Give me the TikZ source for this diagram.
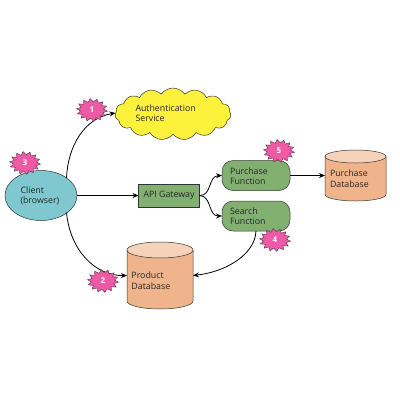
\documentclass[tikz,border=0pt]{standalone}
\usepackage{fontspec}
\setmainfont{Open Sans}
\usetikzlibrary{shapes.geometric,shapes.symbols,arrows.meta}
\definecolor{cteal}{HTML}{7FC8CF}
\definecolor{cgreen}{HTML}{82B071}
\definecolor{cyel}{HTML}{FCF23C}
\definecolor{corange}{HTML}{F0B48C}
\definecolor{ctop}{HTML}{F6D2BA}
\definecolor{cpink}{HTML}{EE5AA6}
\definecolor{cline}{HTML}{333333}
\newcommand{\burstshape}[2]{%
 \draw[cline!70!cpink,line width=0.5pt,fill=cpink] plot[domain=0:27,samples=28,smooth cycle,tension=0] ({#1+(mod(\x,2)==0?15.5:11.5)*cos(\x*360/28+6)},{#2+(mod(\x,2)==0?11.5:8.2)*sin(\x*360/28+6)});}
\newcommand{\dbshape}[5]{% x1 x2 y1 y2 ry
 \pgfmathsetmacro{\rxv}{(#2-#1)/2}
 \pgfmathsetmacro{\cxv}{(#1+#2)/2}
 \path[shapeline,fill=corange] (#1,#3+#5) -- (#1,#4-#5) arc[start angle=180,end angle=360,x radius=\rxv,y radius=-#5] -- (#2,#3+#5) -- cycle;
 \path[shapeline,fill=ctop] (\cxv,#3+#5) ellipse[x radius=\rxv,y radius=#5];}
\tikzset{
 x=1pt,y=-1pt,
 every node/.style={font=\fontsize{8.8}{10.4}\selectfont,text=black!85,align=left,inner sep=0pt,outer sep=0pt},
 shapeline/.style={draw=cline,line width=0.5pt},
 conn/.style={draw=black,line width=0.8pt,-{Stealth[length=6pt,width=5pt]}},
 func/.style={shapeline,fill=cgreen,rounded corners=11pt,minimum width=68pt,minimum height=30pt},
 dbanchor/.style={rectangle,draw=none,fill=none},
 burstlabel/.style={text=white,font=\bfseries\fontsize{8}{10}\selectfont},
}
\begin{document}
\begin{tikzpicture}
\useasboundingbox (0,0) rectangle (400,400);
\node[shapeline,cloud,cloud puffs=15,cloud puff arc=110,aspect=2.2,fill=cyel,minimum width=116pt,minimum height=52pt] (auth) at (173,114) {};
\node[anchor=west] (authl) at (135.5,113) {Authentication\\Service};
\node[shapeline,ellipse,fill=cteal,minimum width=72pt,minimum height=50pt] (client) at (41,195.5) {};
\node[anchor=west] (clientl) at (20.5,196) {Client\\(browser)};
\node[shapeline,fill=cgreen,minimum width=61pt,minimum height=23pt] (api) at (169,195.5) {API Gateway};
\node[func] (purchase) at (256,175.5) {};
\node[anchor=west] (purchasel) at (230,176) {Purchase\\Function};
\node[func] (search) at (256,216) {};
\node[anchor=west] (searchl) at (230,216) {Search\\Function};
\dbshape{325}{386}{150}{201}{6.5}
\node[dbanchor,minimum width=61pt,minimum height=51pt] (pdb) at (355.5,175.5) {};
\node[anchor=west] (pdbl) at (330,178.5) {Purchase\\Database};
\dbshape{127}{193}{242}{309}{8}
\node[dbanchor,minimum width=66pt,minimum height=67pt] (prod) at (160,275.5) {};
\node[anchor=west] (prodl) at (131.5,280.5) {Product\\Database};
\coordinate (ca) at (66.5,178);
\coordinate (cb) at (66.5,212.5);
\coordinate (sf) at (256,231);
\coordinate (authin) at (115.5,113);
\draw[conn] (ca) .. controls (68,145) and (85,118) .. (authin);
\draw[conn] (cb) .. controls (70,250) and (95,276) .. (prod.west);
\draw[conn] (client.east) -- (api.west);
\draw[conn] (api.east) .. controls (212,196) and (208,176) .. (purchase.west);
\draw[conn] (api.east) .. controls (212,196) and (208,216) .. (search.west);
\draw[conn] (purchase.east) -- (pdb.west);
\draw[conn] (sf) .. controls (255,255) and (225,272) .. (prod.east);
\burstshape{92}{110}\node[burstlabel] (s1) at (92,110) {1};
\burstshape{103}{281}\node[burstlabel] (s2) at (103,281) {2};
\burstshape{25}{163}\node[burstlabel] (s3) at (25,163) {3};
\burstshape{275}{240}\node[burstlabel] (s4) at (275,240) {4};
\burstshape{279}{151}\node[burstlabel] (s5) at (279,151) {5};
\end{tikzpicture}
\end{document}
